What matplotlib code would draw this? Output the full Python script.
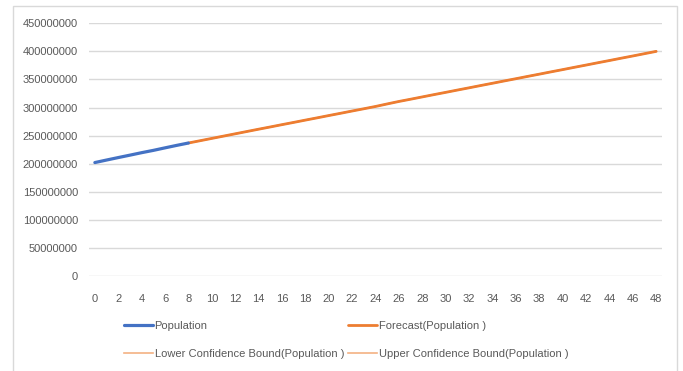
import matplotlib.pyplot as plt
from matplotlib.patches import Rectangle

# Observed population (millions) for periods 0..8
pop_x = [0, 1, 2, 3, 4, 5, 6, 7, 8]
pop_y = [202.0, 206.5, 210.9, 215.2, 219.6, 223.7, 228.2, 232.6, 236.8]

# Forecast (millions) for periods 8..48
fc_x = list(range(8, 49))
fc_y = [236.8, 240.9, 245.0, 249.1, 253.2, 257.3, 261.4, 265.4, 269.5, 273.5,
        277.6, 281.6, 285.7, 289.7, 293.8, 297.8, 301.9, 306.4, 310.8, 314.8,
        318.9, 323.0, 327.0, 331.1, 335.1, 339.2, 343.2, 347.3, 351.3, 355.4,
        359.4, 363.5, 367.5, 371.6, 375.6, 379.7, 383.7, 387.8, 391.8, 395.9,
        400.0]
# Confidence bounds coincide with the forecast at this scale
lower_y = list(fc_y)
upper_y = list(fc_y)

y_ticks = [0, 50, 100, 150, 200, 250, 300, 350, 400, 450]
x_ticks = list(range(0, 49, 2))

scale = 1e6
blue = '#4472C4'
orange = '#ED7D31'
light = '#F4B183'
grey = '#595959'

plt.rcParams['font.family'] = ['Liberation Sans', 'DejaVu Sans']

fig = plt.figure(figsize=(6.83, 3.71), dpi=100)
ax = fig.add_axes([89 / 683, 1 - 276 / 371, (662 - 89) / 683, (276 - 23.3) / 371])

ax.plot(fc_x, [v * scale for v in lower_y], color=light, lw=1.2, zorder=2,
        label='Lower Confidence Bound(Population )')
ax.plot(fc_x, [v * scale for v in upper_y], color=light, lw=1.2, zorder=2,
        label='Upper Confidence Bound(Population )')
ax.plot(fc_x, [v * scale for v in fc_y], color=orange, lw=2.0, zorder=3,
        solid_capstyle='round', label='Forecast(Population )')
ax.plot(pop_x, [v * scale for v in pop_y], color=blue, lw=2.3, zorder=4,
        solid_capstyle='round', label='Population')

ax.set_xlim(-0.5, 48.5)
ax.set_ylim(0, 450 * scale)
ax.set_yticks([v * scale for v in y_ticks])
ax.set_yticklabels([str(int(v * scale)) for v in y_ticks])
ax.set_xticks(x_ticks)
ax.set_xticklabels([str(v) for v in x_ticks])
ax.tick_params(axis='both', length=0, colors=grey, labelsize=8)
ax.tick_params(axis='y', pad=8)
ax.tick_params(axis='x', pad=13)
ax.grid(axis='y', color='#D9D9D9', lw=1)
ax.set_axisbelow(True)
for s in ax.spines.values():
    s.set_visible(False)

h, l = ax.get_legend_handles_labels()
order = [3, 0, 2, 1]
leg = fig.legend([h[i] for i in order], [l[i] for i in order], ncol=2,
                 loc='upper left', bbox_to_anchor=(124 / 683, 1 - 321 / 371),
                 frameon=False, fontsize=8, handlelength=2.6, handletextpad=0.15,
                 columnspacing=0.38, labelspacing=1.65, labelcolor=grey,
                 borderaxespad=0, borderpad=0)

# chart area border
fig.patches.append(Rectangle((12.5 / 683, -0.1), (677 - 12.5) / 683, 1.1 - 6 / 371,
                             transform=fig.transFigure, fill=False,
                             edgecolor='#D9D9D9', lw=1))

fig.savefig('out.png', dpi=100)
